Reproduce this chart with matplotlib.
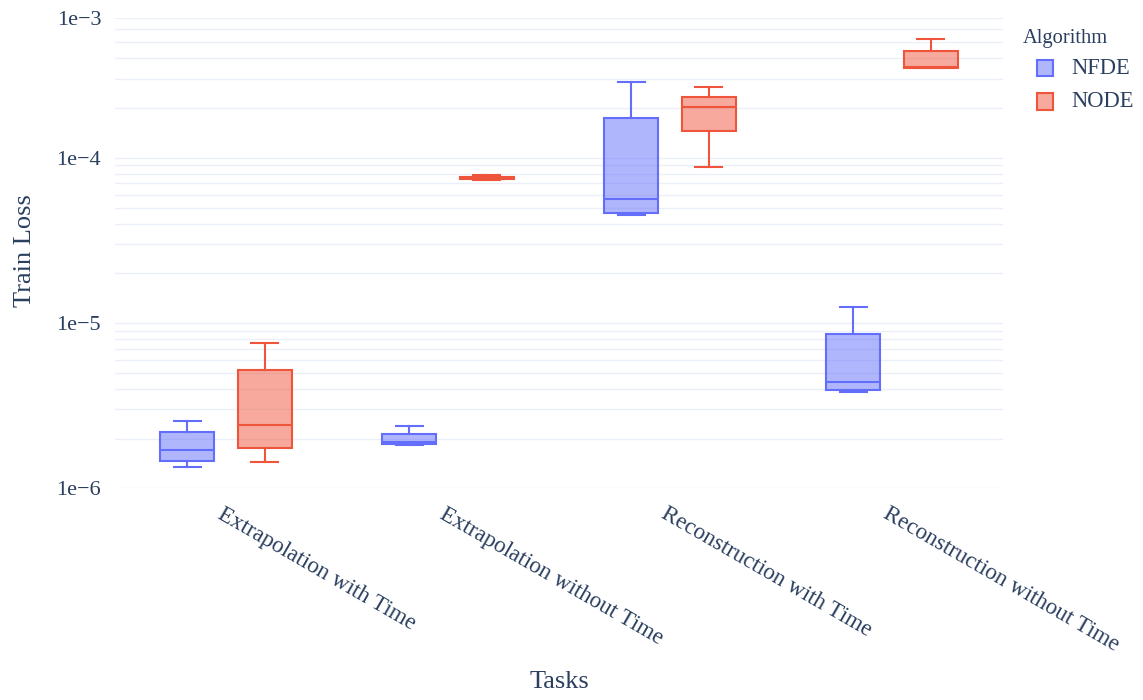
import matplotlib
matplotlib.use("Agg")
import matplotlib.pyplot as plt
from matplotlib.patches import Rectangle
from matplotlib.ticker import FixedLocator, FixedFormatter, LogLocator, NullFormatter
import matplotlib.transforms as mtransforms

plt.rcParams["font.family"] = ["Liberation Serif", "DejaVu Serif"]
TXT = "#2a3f5f"

tasks = ["Extrapolation with Time", "Extrapolation without Time",
         "Reconstruction with Time", "Reconstruction without Time"]
algorithms = ["NFDE", "NODE"]
colors = ["#636efa", "#ef553b"]

# box summaries per task: lower whisker, Q1, median, Q3, upper whisker
nfde_lo = [1.35e-6, 1.84e-6, 4.49e-5, 3.85e-6]
nfde_q1 = [1.46e-6, 1.86e-6, 4.64e-5, 3.94e-6]
nfde_med = [1.71e-6, 1.90e-6, 5.67e-5, 4.37e-6]
nfde_q3 = [2.18e-6, 2.14e-6, 1.75e-4, 8.61e-6]
nfde_hi = [2.56e-6, 2.39e-6, 2.87e-4, 1.25e-5]

node_lo = [1.45e-6, 7.40e-5, 8.82e-5, 3.48e-4]
node_q1 = [1.76e-6, 7.50e-5, 1.46e-4, 3.50e-4]
node_med = [2.43e-6, 7.60e-5, 2.02e-4, 3.55e-4]
node_q3 = [5.19e-6, 7.70e-5, 2.34e-4, 4.43e-4]
node_hi = [7.60e-6, 7.85e-5, 2.67e-4, 5.26e-4]

series = [
    (nfde_lo, nfde_q1, nfde_med, nfde_q3, nfde_hi),
    (node_lo, node_q1, node_med, node_q3, node_hi),
]
offsets = [-0.175, 0.175]

W, H = 1143, 700
fig = plt.figure(figsize=(W / 100, H / 100), dpi=100)
ax = fig.add_axes([115 / W, 1 - 488.3 / H, (1003 - 115) / W, (488.3 - 18.3) / H])

for (lo, q1, med, q3, hi), off, col in zip(series, offsets, colors):
    stats = [dict(whislo=a, q1=b, med=c, q3=d, whishi=e, fliers=[])
             for a, b, c, d, e in zip(lo, q1, med, q3, hi)]
    lw = 1.5
    bp = ax.bxp(stats, positions=[i + off for i in range(len(tasks))],
                widths=0.245, capwidths=0.1225, patch_artist=True, showfliers=False,
                boxprops=dict(facecolor=col, edgecolor=col, linewidth=lw),
                medianprops=dict(color=col, linewidth=lw),
                whiskerprops=dict(color=col, linewidth=lw),
                capprops=dict(color=col, linewidth=lw))
    for b in bp["boxes"]:
        b.set_facecolor(matplotlib.colors.to_rgba(col, 0.5))
        b.set_zorder(3)
    for key in ("medians", "whiskers", "caps"):
        for ln in bp[key]:
            ln.set_zorder(4)

ax.set_yscale("log")
ax.set_ylim(1e-6, 7e-4)
ax.set_xlim(-0.5, 3.5)

# light gridlines at every 1..9 step of each decade
ax.yaxis.set_minor_locator(LogLocator(base=10, subs=range(2, 10)))
ax.yaxis.set_minor_formatter(NullFormatter())
ax.yaxis.set_major_locator(FixedLocator([1e-6, 1e-5, 1e-4, 7e-4]))
ax.yaxis.set_major_formatter(FixedFormatter(["1e\u22126", "1e\u22125", "1e\u22124", "1e\u22123"]))
ax.grid(True, axis="y", which="both", color="#ebf0f8", linewidth=1.0, zorder=0)
ax.set_axisbelow(True)
ax.tick_params(axis="y", which="both", length=0, pad=10, labelsize=16, labelcolor=TXT)

ax.set_xticks(range(len(tasks)))
ax.set_xticklabels(tasks, rotation=-30, ha="left", va="top", rotation_mode="anchor",
                   fontsize=16.6, color=TXT)
ax.tick_params(axis="x", length=0, pad=11)
shift = mtransforms.ScaledTranslation(-2 / 100, 0, fig.dpi_scale_trans)
for lbl in ax.get_xticklabels():
    lbl.set_transform(lbl.get_transform() + shift)

for s in ax.spines.values():
    s.set_visible(False)

fig.text(25 / W, 1 - 251 / H, "Train Loss", rotation=90, ha="center", va="center",
         fontsize=19, color=TXT)
fig.text(559 / W, 1 - 682 / H, "Tasks", ha="center", va="center", fontsize=19, color=TXT)

# legend
fig.text(1023 / W, 1 - 38 / H, "Algorithm", ha="left", va="center", fontsize=14.8, color=TXT)
for k, (name, col) in enumerate(zip(algorithms, colors)):
    yc = 68 + 33.5 * k
    fig.add_artist(Rectangle((1037 / W, 1 - (yc + 8) / H), 16 / W, 16 / H,
                             transform=fig.transFigure,
                             facecolor=matplotlib.colors.to_rgba(col, 0.5),
                             edgecolor=col, linewidth=1.5))
    fig.text(1071 / W, 1 - yc / H, name, ha="left", va="center", fontsize=16.3, color=TXT)

fig.savefig("out.png", dpi=100, facecolor="white")
